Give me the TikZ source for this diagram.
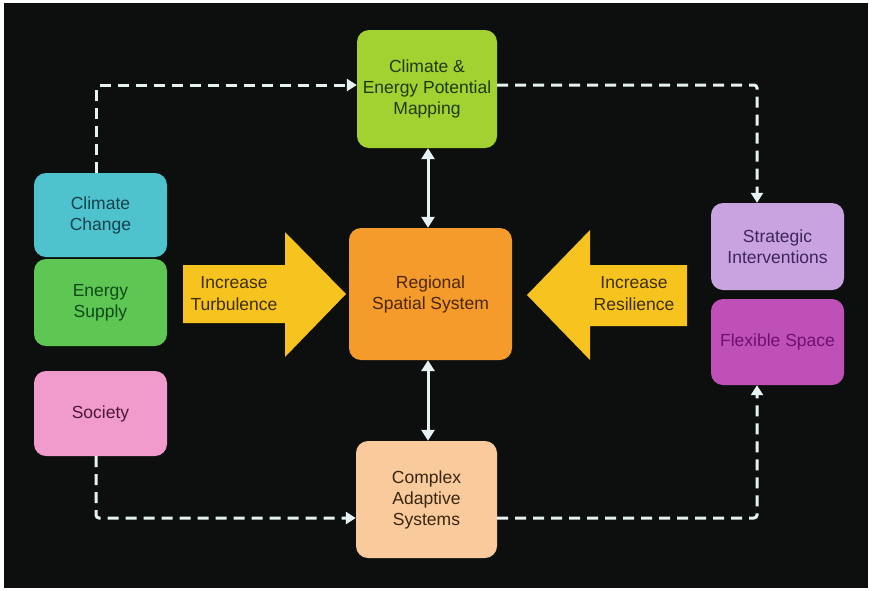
\documentclass[tikz,border=0pt]{standalone}
\usepackage{fontspec}
\setmainfont{Liberation Sans}
\usetikzlibrary{arrows.meta}
\definecolor{bg}{HTML}{0D0F0F}
\definecolor{limef}{HTML}{A2D232}
\definecolor{limet}{HTML}{1F3A0A}
\definecolor{cyanf}{HTML}{4EC3CE}
\definecolor{cyant}{HTML}{15424C}
\definecolor{greenf}{HTML}{5EC754}
\definecolor{greent}{HTML}{0E4A16}
\definecolor{pinkf}{HTML}{F09BCB}
\definecolor{pinkt}{HTML}{4C1838}
\definecolor{lavf}{HTML}{C9A3E0}
\definecolor{lavt}{HTML}{3E2659}
\definecolor{magf}{HTML}{BF50B8}
\definecolor{magt}{HTML}{6E106E}
\definecolor{oranf}{HTML}{F59B2C}
\definecolor{orant}{HTML}{4A2608}
\definecolor{peachf}{HTML}{F8CA9C}
\definecolor{peacht}{HTML}{3A2610}
\definecolor{yelf}{HTML}{F7C41F}
\definecolor{yelt}{HTML}{3D2E00}
\definecolor{linec}{HTML}{E6F2F2}
\tikzset{
  box/.style={rectangle, rounded corners=12pt, align=center, inner sep=2pt,
    font=\fontsize{17.5}{21}\selectfont},
  dashline/.style={draw=linec, line width=3pt, dash pattern=on 11pt off 7pt,
    rounded corners=3pt, -{Triangle[width=12pt,length=10pt]}},
  solidline/.style={draw=linec, line width=3pt,
    {Triangle[width=13pt,length=11pt]}-{Triangle[width=13pt,length=11pt]}},
  bigarrow/.style={fill=yelf},
  arrowtext/.style={align=center, text=yelt, font=\fontsize{17.5}{22}\selectfont}
}
\begin{document}
\begin{tikzpicture}[x=1pt,y=-1pt]
\useasboundingbox (0,0) rectangle (870,590);
\fill[white] (0,0) rectangle (870,590);
\fill[bg] (4,3) rectangle (868,588);

% boxes
\node[box, fill=limef, text=limet, minimum width=140pt, minimum height=118pt] (map) at (427,89) {Climate \&\\Energy Potential\\Mapping};
\node[box, fill=cyanf, text=cyant, minimum width=133pt, minimum height=84pt] (cc) at (100.5,215) {Climate\\Change};
\node[box, fill=greenf, text=greent, minimum width=133pt, minimum height=87pt] (es) at (100.5,302.5) {Energy\\Supply};
\node[box, fill=pinkf, text=pinkt, minimum width=133pt, minimum height=85pt] (soc) at (100.5,413.5) {Society};
\node[box, fill=lavf, text=lavt, minimum width=133pt, minimum height=87pt] (si) at (777.5,246.5) {Strategic\\Interventions};
\node[box, fill=magf, text=magt, minimum width=133pt, minimum height=86pt] (fs) at (777.5,342) {Flexible Space};
\node[box, fill=oranf, text=orant, minimum width=163pt, minimum height=132pt] (rss) at (430.5,294) {Regional\\Spatial System};
\node[box, fill=peachf, text=peacht, minimum width=141pt, minimum height=117pt] (cas) at (426.5,499.5) {Complex\\Adaptive\\Systems};

% big yellow arrows
\fill[bigarrow] (183,265) -- (285,265) -- (285,232) -- (346,294) -- (285,357) -- (285,323) -- (183,323) -- cycle;
\fill[bigarrow] (687,265) -- (590,265) -- (590,230) -- (527,295) -- (590,360) -- (590,326) -- (687,326) -- cycle;
\node[arrowtext] (t1) at (234,294) {Increase\\Turbulence};
\node[arrowtext] (t2) at (634,294) {Increase\\Resilience};

% dashed connectors
\coordinate (c1) at (96,85);
\coordinate (c2) at (757,85);
\coordinate (c3) at (96,518);
\coordinate (c4) at (757,518);
\draw[dashline] (cc.north -| c1) -- (c1) -- (map.west |- c1);
\draw[dashline] (map.east |- c2) -- (c2) -- (si.north -| c2);
\draw[dashline] (soc.south -| c3) -- (c3) -- (cas.west |- c3);
\draw[dashline] (cas.east |- c4) -- (c4) -- (fs.south -| c4);

% solid double arrows
\draw[solidline] ([xshift=1pt]map.south) -- ([xshift=1pt]map.south |- rss.north);
\draw[solidline] ([xshift=-2.5pt]rss.south) -- ([xshift=-2.5pt]rss.south |- cas.north);
\end{tikzpicture}
\end{document}
